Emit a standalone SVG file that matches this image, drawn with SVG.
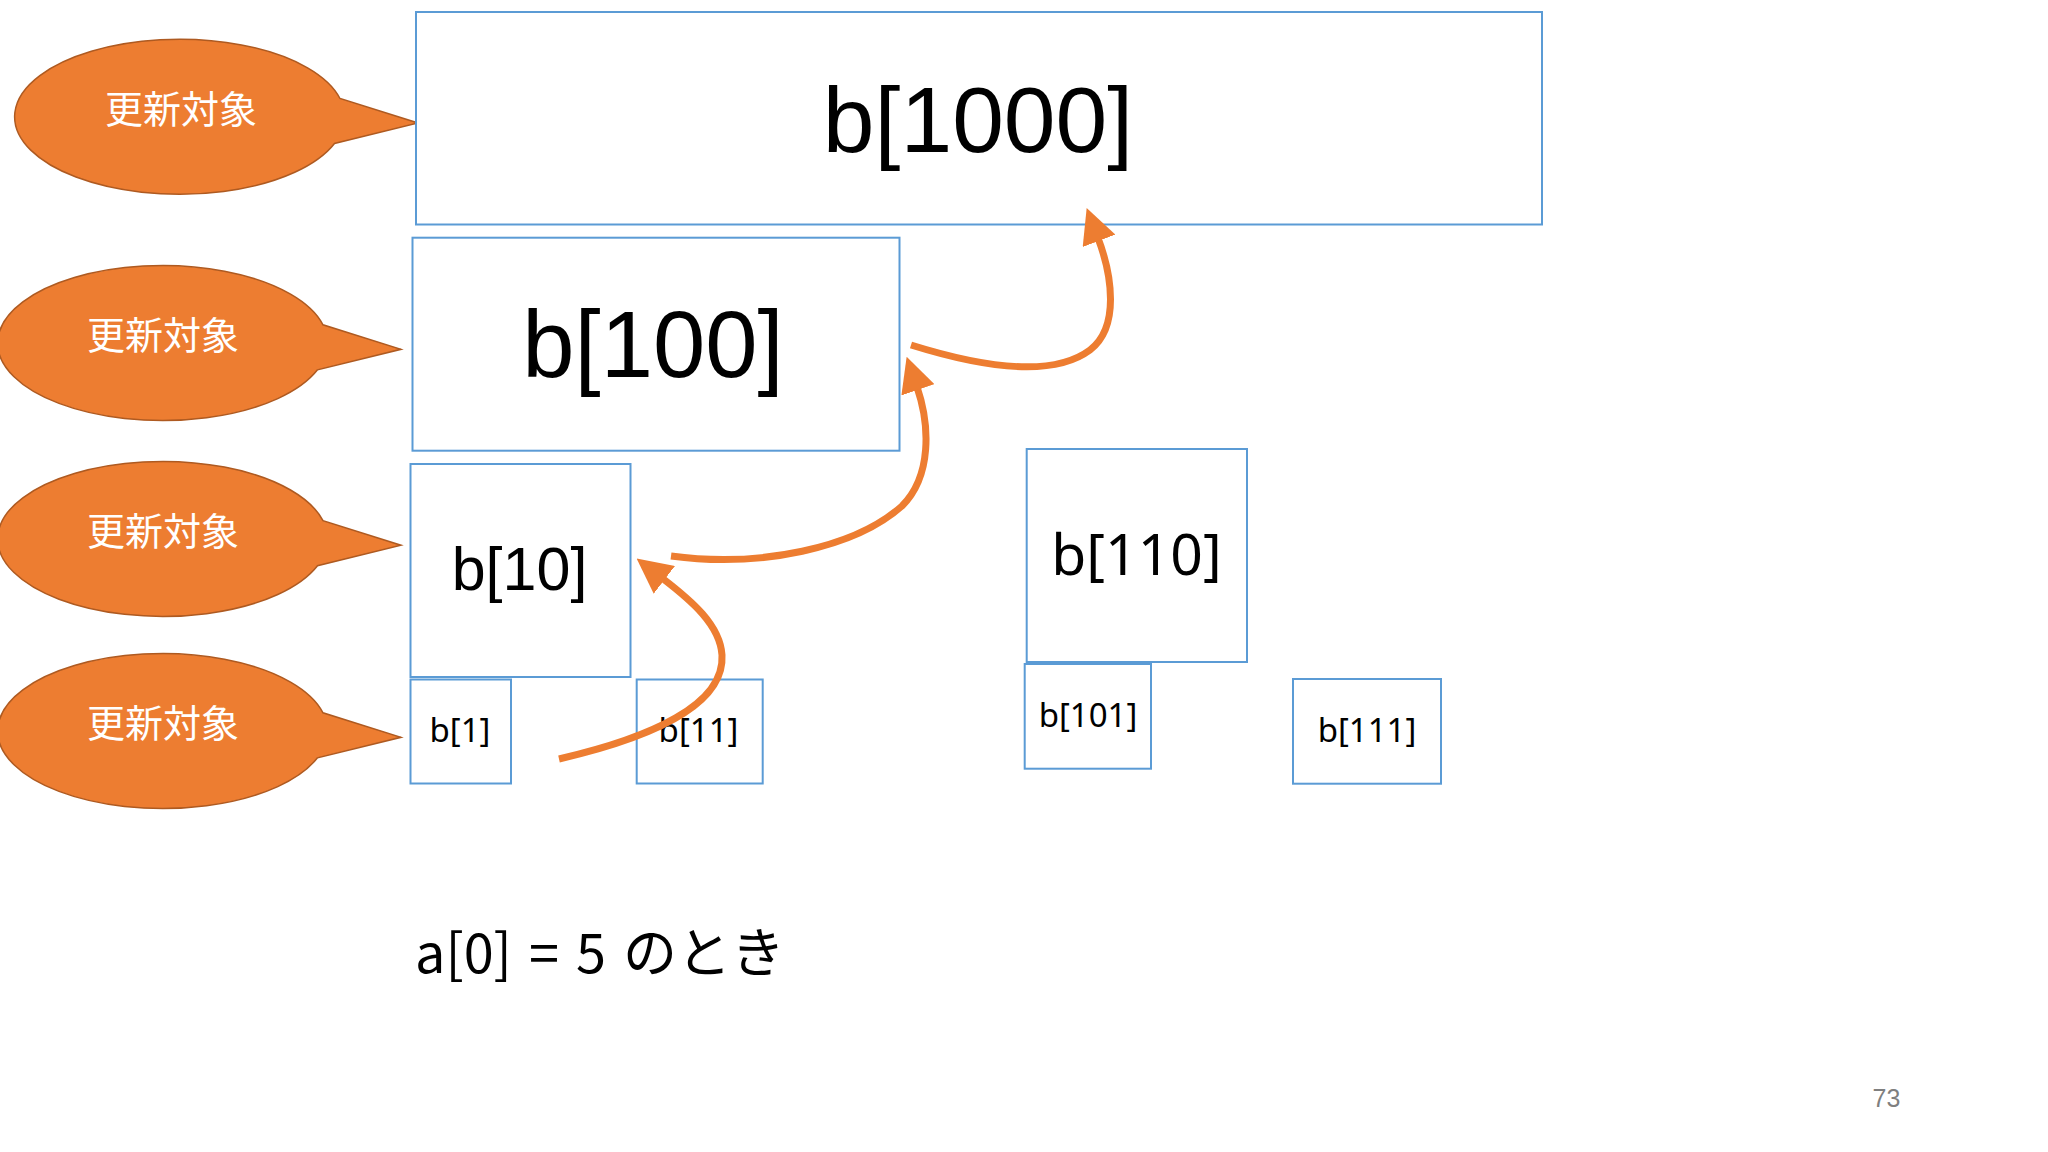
<svg xmlns="http://www.w3.org/2000/svg" xmlns:xlink="http://www.w3.org/1999/xlink" width="2048" height="1152" viewBox="0 0 2048 1152">
  <style>
    .box { fill: #ffffff; stroke: #5B9BD5; stroke-width: 2; }
    .big { font-family: "Liberation Sans", Arial, sans-serif; fill: #000; text-anchor: middle; }
    .sm { font-family: "Noto Sans", "Open Sans", sans-serif; fill: #000; text-anchor: middle; }
    .bubble { fill: #ED7D31; stroke: #AE5A21; stroke-width: 1.5; }
    .btxt { font-family: "Noto Sans CJK JP", "Noto Sans", sans-serif; font-size: 38px; fill: #ffffff; text-anchor: middle; }
    .arrow { fill: none; stroke: #ED7D31; stroke-width: 7; marker-end: url(#head); }
  </style>
  <defs>
    <marker id="head" markerUnits="userSpaceOnUse" viewBox="0 0 35 35" markerWidth="35" markerHeight="35" refX="3" refY="17.5" orient="auto">
      <path d="M0,0 L35,17.5 L0,35 Z" fill="#ED7D31"/>
    </marker>
    <path id="callout" d="M160,-18 A165,77.5 0 1 0 154.5,27 L238,6.5 Z"/>
  </defs>
  <rect x="0" y="0" width="2048" height="1152" fill="#ffffff"/>

  <g id="callout1"><use xlink:href="#callout" class="bubble" x="180" y="116.5"/><text class="btxt" x="181" y="122.5">更新対象</text></g>
  <g id="callout2"><use xlink:href="#callout" class="bubble" x="163" y="342.8"/><text class="btxt" x="163" y="349">更新対象</text></g>
  <g id="callout3"><use xlink:href="#callout" class="bubble" x="163" y="538.7"/><text class="btxt" x="163" y="545">更新対象</text></g>
  <g id="callout4"><use xlink:href="#callout" class="bubble" x="163" y="730.8"/><text class="btxt" x="163" y="737">更新対象</text></g>

  <g id="b1000"><rect class="box" x="416" y="12" width="1126" height="212.5"/><text class="big" x="978" y="152" font-size="93">b[1000]</text></g>
  <g id="b100"><rect class="box" x="412.5" y="237.7" width="487" height="213"/><text class="big" x="653" y="377" font-size="94">b[100]</text></g>
  <g id="b10"><rect class="box" x="410.5" y="464" width="220" height="213"/><text class="big" x="519.5" y="590" font-size="61">b[10]</text></g>
  <g id="b1"><rect class="box" x="410.5" y="679.5" width="100.5" height="104"/><text class="sm" x="460" y="741.5" font-size="33">b[1]</text></g>
  <g id="b11"><rect class="box" x="636.7" y="679.5" width="126" height="104"/><text class="sm" x="698.5" y="741.5" font-size="33">b[11]</text></g>
  <g id="b110"><rect class="box" x="1026.7" y="449" width="220.3" height="213"/><text class="sm" x="1136.5" y="575" font-size="57">b[110]</text></g>
  <g id="b101"><rect class="box" x="1024.7" y="664" width="126.3" height="104.7"/><text class="sm" x="1088" y="726.7" font-size="33">b[101]</text></g>
  <g id="b111"><rect class="box" x="1293" y="679" width="148" height="104.7"/><text class="sm" x="1367" y="741.7" font-size="33">b[111]</text></g>

  <g id="connectors">
    <path class="arrow" d="M559,759 C650,738 725,705 722,655 C720,625 692,601 662,578"/>
    <path class="arrow" d="M671,556 C760,568 855,548 902,506 C932,476 930,425 917,387"/>
    <path class="arrow" d="M911,345 C975,365 1050,380 1090,350 C1120,327 1112,275 1098,238"/>
  </g>

  <text x="415" y="972.7" font-family="Noto Sans CJK JP, Noto Sans, sans-serif" font-size="54" word-spacing="5" fill="#000">a[0] = 5 のとき</text>
  <text x="1886.5" y="1107" font-family="Liberation Sans, Arial, sans-serif" font-size="25" fill="#7F7F7F" text-anchor="middle">73</text>
</svg>
